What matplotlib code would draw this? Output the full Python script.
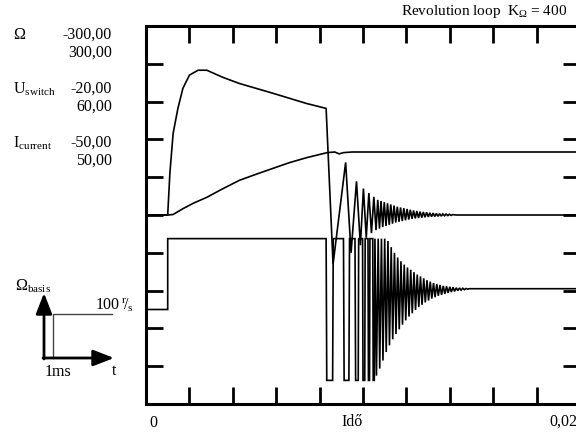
import matplotlib.pyplot as plt
import numpy as np

plt.rcParams["font.family"] = ["Liberation Serif", "DejaVu Serif"]
plt.rcParams["mathtext.fontset"] = "custom"
plt.rcParams["mathtext.rm"] = "Liberation Serif"
plt.rcParams["mathtext.it"] = "Liberation Serif:italic"

W, H = 576, 434

# channel ranges (bottom, top of the 10-division screen)
OMEGA_RANGE = (-300.0, 300.0)
USW_RANGE = (-20.0, 60.0)
ICUR_RANGE = (-50.0, 50.0)

# speed, r/s (time in ms)
omega_t = [0, 1.0, 1.25, 1.7, 2.2, 2.8, 3.5, 4.3, 5.1, 5.85, 6.6, 7.4, 8.35, 8.7, 8.9, 9.1, 9.5, 10.5, 20.0]
omega_v = [0, 0, 0.8, 10, 19, 28, 41, 55, 65, 74, 83, 91, 99, 100, 97, 99, 100, 100, 100]

# armature current, A - start-up part
icur_t = [0, 1.0, 1.1, 1.25, 1.47, 1.7, 2.0, 2.4, 2.8, 3.55, 4.3, 5.85, 7.4, 8.3]
icur_v = [0, 0, 11.0, 21.6, 28.2, 33.5, 37.0, 38.3, 38.3, 36.4, 34.8, 32.2, 29.5, 28.2]
# current oscillation after the switch starts chopping: peaks and troughs
icur_pk_t = [9.2, 9.7, 10.02, 10.27, 10.5, 10.68, 10.83, 10.98, 11.13, 11.28, 11.43, 11.58,
             11.73, 11.88, 12.03, 12.18, 12.33, 12.48, 12.63, 12.78, 12.93, 13.08, 13.23,
             13.38, 13.53, 13.68, 13.83, 13.98, 14.13]
icur_pk_v = [13.9, 8.9, 7.0, 5.8, 4.8, 4.0, 3.7, 3.4, 3.1, 2.8, 2.5, 2.2, 2.0, 1.8, 1.6,
             1.4, 1.2, 1.05, 0.9, 0.8, 0.7, 0.6, 0.5, 0.4, 0.35, 0.3, 0.25, 0.2, 0.1]
icur_tr_t = [8.62, 9.45, 9.88, 10.15, 10.39, 10.6, 10.76, 10.91, 11.06, 11.21, 11.36, 11.51,
             11.66, 11.81, 11.96, 12.11, 12.26, 12.41, 12.56, 12.71, 12.86, 13.01, 13.16,
             13.31, 13.46, 13.61, 13.76, 13.91, 14.06]
icur_tr_v = [-13.0, -10.0, -8.0, -6.0, -4.8, -4.0, -3.6, -3.2, -2.9, -2.6, -2.3, -2.0, -1.8,
             -1.6, -1.4, -1.2, -1.0, -0.9, -0.8, -0.7, -0.6, -0.5, -0.45, -0.4, -0.35, -0.3,
             -0.2, -0.15, -0.1]
icur_end_t = [14.3, 20.0]
icur_end_v = [0.0, 0.0]

# switch voltage, V - full +/-15 V pulses
usw_t = [0, 1.0, 1.0, 8.3, 8.33, 8.6, 8.63, 9.1, 9.13, 9.35, 9.38, 9.63, 9.66, 9.78, 9.8,
         9.98, 10.0, 10.08, 10.1, 10.23, 10.25, 10.3, 10.32, 10.45, 10.47, 10.52, 10.55]
usw_v = [0, 0, 15, 15, -15, -15, 15, 15, -15, -15, 15, 15, -15, -15, 15,
         15, -15, -15, 15, 15, -15, -15, 15, 15, -15, -15, 15]
# then the sampled chopping: lower and upper turning points
usw_lo_t = [10.62, 10.77, 10.92, 11.07, 11.22, 11.37, 11.52, 11.67, 11.82, 11.97, 12.12,
            12.27, 12.42, 12.57, 12.72, 12.87, 13.02, 13.17, 13.32, 13.47, 13.62, 13.77,
            13.92, 14.07, 14.22, 14.37, 14.52, 14.67, 14.82]
usw_lo_v = [-14.0, -12.5, -10.8, -9.0, -7.6, -6.3, -5.2, -4.2, -3.2, -2.3, -1.5, -0.8, -0.1,
            0.5, 1.0, 1.5, 1.9, 2.3, 2.6, 2.9, 3.1, 3.3, 3.5, 3.7, 3.85, 4.0, 4.1, 4.2, 4.3]
usw_hi_t = [10.70, 10.85, 11.0, 11.15, 11.3, 11.45, 11.6, 11.75, 11.9, 12.05, 12.2, 12.35,
            12.5, 12.65, 12.8, 12.95, 13.1, 13.25, 13.4, 13.55, 13.7, 13.85, 14.0, 14.15,
            14.3, 14.45, 14.6, 14.75, 14.9]
usw_hi_v = [15, 15, 15, 14.5, 13.2, 12.0, 11.0, 10.2, 9.5, 8.9, 8.4, 7.9, 7.4, 7.0, 6.6,
            6.2, 5.9, 5.6, 5.4, 5.2, 5.0, 4.9, 4.8, 4.7, 4.6, 4.55, 4.5, 4.45, 4.4]
usw_end_t = [20.0]
usw_end_v = [4.4]


def to_div(values, rng):
    lo, hi = rng
    return (np.asarray(values, dtype=float) - lo) / (hi - lo) * 10.0


def merge(*pairs):
    t = np.concatenate([np.asarray(p[0], dtype=float) for p in pairs])
    v = np.concatenate([np.asarray(p[1], dtype=float) for p in pairs])
    order = np.argsort(t, kind="stable")
    return t[order], v[order]


fig = plt.figure(figsize=(W / 100, H / 100), dpi=100)
ax = fig.add_axes([146 / W, 1 - 404 / H, (580 - 146) / W, (404 - 26) / H])
ax.set_xlim(0, 0.02)
ax.set_ylim(0, 10)
ax.set_xticks(np.arange(0, 0.0201, 0.002))
ax.set_yticks(np.arange(1, 10))
ax.tick_params(which="both", direction="in", length=12, width=2, color="black",
               top=True, right=True, labelbottom=False, labelleft=False)
for sp in ax.spines.values():
    sp.set_linewidth(2.2)
ax.patch.set_alpha(0)

line_kw = dict(color="black", lw=1.2, solid_joinstyle="miter")

# speed
ax.plot(np.array(omega_t) / 1000, to_div(omega_v, OMEGA_RANGE), **line_kw)

# current
t_i, v_i = merge((icur_t, icur_v), (icur_pk_t, icur_pk_v), (icur_tr_t, icur_tr_v),
                 (icur_end_t, icur_end_v))
ax.plot(t_i / 1000, to_div(v_i, ICUR_RANGE), **line_kw)

# switch voltage
t_u, v_u = merge((usw_t, usw_v), (usw_lo_t, usw_lo_v), (usw_hi_t, usw_hi_v),
                 (usw_end_t, usw_end_v))
ax.plot(t_u / 1000, to_div(v_u, USW_RANGE), **line_kw)

# overlay in pixel coordinates for the labels and the little step sketch
ov = fig.add_axes([0, 0, 1, 1])
ov.set_xlim(0, W)
ov.set_ylim(H, 0)
ov.axis("off")

fs = 11.5
ov.text(13, 35, "Ω", fontsize=fs, va="center", ha="left")
ov.text(112, 35, "-300,00", fontsize=fs, va="center", ha="right")
ov.text(112, 53, "300,00", fontsize=fs, va="center", ha="right")
ov.text(13, 89, r"U$_{\mathrm{switch}}$", fontsize=fs, va="center", ha="left")
ov.text(112, 89, "-20,00", fontsize=fs, va="center", ha="right")
ov.text(112, 107, "60,00", fontsize=fs, va="center", ha="right")
ov.text(13, 143, r"I$_{\mathrm{current}}$", fontsize=fs, va="center", ha="left")
ov.text(112, 143, "-50,00", fontsize=fs, va="center", ha="right")
ov.text(112, 161, "50,00", fontsize=fs, va="center", ha="right")

ov.text(401, 12, r"Revolution loop  K$_{\Omega}$ = 400", fontsize=11, va="center", ha="left")

ov.text(153, 423, "0", fontsize=fs, va="center", ha="center")
ov.text(352, 422, "Idő", fontsize=fs, va="center", ha="center")
ov.text(549, 422, "0,02", fontsize=fs, va="center", ha="left")

# reference step sketch
arrow_kw = dict(arrowstyle="-|>,head_length=0.9,head_width=0.35", lw=2, color="black",
                mutation_scale=14, shrinkA=0, shrinkB=0)
ov.annotate("", xy=(44, 293), xytext=(44, 359), arrowprops=arrow_kw)
ov.annotate("", xy=(114, 358), xytext=(43, 358), arrowprops=arrow_kw)
ov.plot([53, 53, 112], [358, 314, 314], color="#444444", lw=1)
ov.text(15, 286, r"Ω$_{\mathrm{basis}}$", fontsize=fs, va="center", ha="left")
ov.text(96, 305, "100", fontsize=fs, va="center", ha="left")
ov.text(121, 305, r"$^{\mathrm{r}}\!/_{\mathrm{s}}$", fontsize=fs, va="center", ha="left")
ov.text(45, 372, "1ms", fontsize=fs, va="center", ha="left")
ov.text(112, 371, "t", fontsize=fs, va="center", ha="left")

fig.savefig("out.png", dpi=100)
